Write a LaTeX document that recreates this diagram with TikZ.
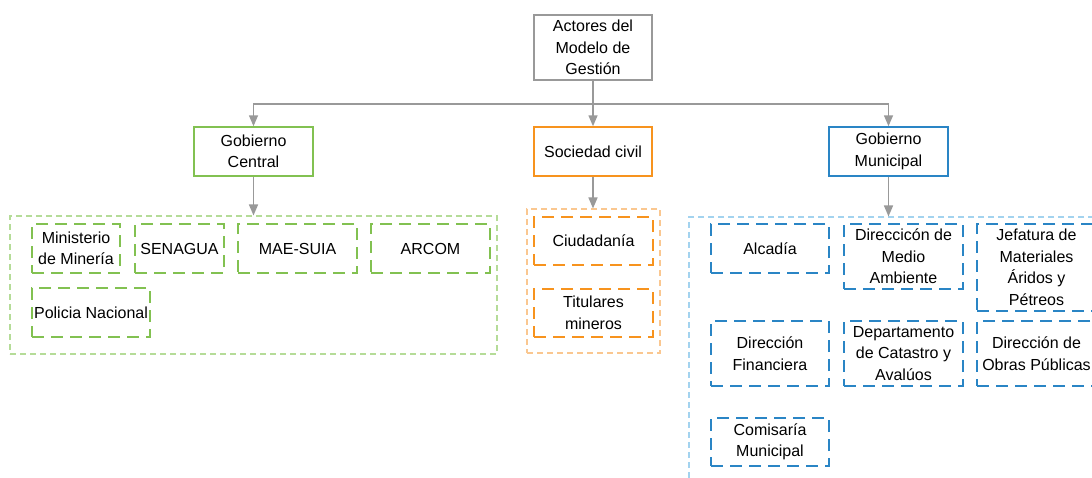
\documentclass[tikz,border=0pt]{standalone}
\usepackage{fontspec}
\setmainfont{Liberation Sans}
\usetikzlibrary{arrows.meta}
\definecolor{cgray}{HTML}{999999}
\definecolor{cgreen}{HTML}{82C151}
\definecolor{cgreenl}{HTML}{B5DC98}
\definecolor{corange}{HTML}{F7931E}
\definecolor{corangel}{HTML}{FAC790}
\definecolor{cblue}{HTML}{2A85C5}
\definecolor{cbluel}{HTML}{A3D3EF}
\tikzset{
  base/.style={rectangle, inner sep=1pt, align=center, font=\fontsize{16}{21.5}\selectfont, text=black},
  solidbox/.style={base, line width=1.5pt},
  innerbox/.style={base, line width=1.6pt, dash pattern=on 12pt off 7pt},
  container/.style={rectangle, line width=1.1pt, dash pattern=on 6pt off 4pt, inner sep=0pt},
  arr/.style={draw=cgray, line width=1.5pt, -{Triangle[length=11pt,width=9pt]}},
}
\begin{document}
\begin{tikzpicture}[x=1pt,y=-1pt]
\clip (0,0) rectangle (1092,477);
\fill[white] (0,0) rectangle (1092,477);
% containers
\node[container, draw=cgreenl, minimum width=487pt, minimum height=138pt] (gcont) at (253.5,285) {};
\node[container, draw=corangel, minimum width=133pt, minimum height=144pt] (scont) at (593.5,281) {};
\node[container, draw=cbluel, minimum width=411pt, minimum height=273pt] (mcont) at (894.5,353.5) {};
% top levels
\node[solidbox, draw=cgray, minimum width=118pt, minimum height=65pt] (root) at (593,47.5) {Actores del\\Modelo de\\Gestión};
\node[solidbox, draw=cgreen, minimum width=119pt, minimum height=49pt] (gc) at (253.5,151.5) {Gobierno\\Central};
\node[solidbox, draw=corange, minimum width=118pt, minimum height=49pt] (sc) at (593,151.5) {Sociedad civil};
\node[solidbox, draw=cblue, minimum width=119pt, minimum height=49pt] (gm) at (888.5,151.5) {Gobierno\\Municipal};
% green inner
\node[innerbox, draw=cgreen, minimum width=88pt, minimum height=49pt] (min) at (76,248.5) {Ministerio\\de Minería};
\node[innerbox, draw=cgreen, minimum width=89pt, minimum height=49pt] (sen) at (179.5,248.5) {SENAGUA};
\node[innerbox, draw=cgreen, minimum width=119pt, minimum height=49pt] (mae) at (297.5,248.5) {MAE-SUIA};
\node[innerbox, draw=cgreen, minimum width=119pt, minimum height=49pt] (arc) at (430.5,248.5) {ARCOM};
\node[innerbox, draw=cgreen, minimum width=118pt, minimum height=49pt] (pol) at (91,312.5) {Policia Nacional};
% orange inner
\node[innerbox, draw=corange, minimum width=119pt, minimum height=48pt] (ciu) at (593.5,241) {Ciudadanía};
\node[innerbox, draw=corange, minimum width=119pt, minimum height=48pt] (tit) at (593.5,313) {Titulares\\mineros};
% blue inner
\node[innerbox, draw=cblue, minimum width=118pt, minimum height=49pt] (alc) at (770,248.5) {Alcadía};
\node[innerbox, draw=cblue, minimum width=119pt, minimum height=65pt] (dma) at (903.5,256.5) {Direccicón de\\Medio\\Ambiente};
\node[innerbox, draw=cblue, minimum width=119pt, minimum height=87pt] (jef) at (1036.5,267.5) {Jefatura de\\Materiales\\Áridos y\\Pétreos};
\node[innerbox, draw=cblue, minimum width=118pt, minimum height=65pt] (dfi) at (770,353.5) {Dirección\\Financiera};
\node[innerbox, draw=cblue, minimum width=119pt, minimum height=65pt] (dca) at (903.5,353.5) {Departamento\\de Catastro y\\Avalúos};
\node[innerbox, draw=cblue, minimum width=119pt, minimum height=65pt] (dob) at (1036.5,353.5) {Dirección de\\Obras Públicas};
\node[innerbox, draw=cblue, minimum width=118pt, minimum height=48pt] (com) at (770,442) {Comisaría\\Municipal};
% connectors
\draw[arr] (root.south) -- ++(0,23) -| (gc.north);
\draw[arr] (root.south) -- ++(0,23) -| (gm.north);
\draw[arr] (root.south) -- (sc.north);
\draw[arr] (gc.south) -- (gc.south |- gcont.north);
\draw[arr] (sc.south) -- (sc.south |- scont.north);
\draw[arr] (gm.south) -- (gm.south |- mcont.north);
\end{tikzpicture}
\end{document}
